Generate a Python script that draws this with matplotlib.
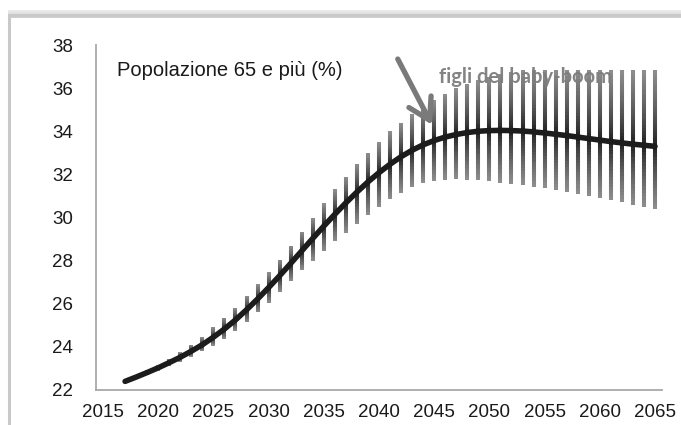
import numpy as np
import matplotlib
matplotlib.use("Agg")
import matplotlib.pyplot as plt
from matplotlib.collections import LineCollection
from matplotlib.patches import Rectangle, FancyArrowPatch

plt.rcParams['font.family'] = ['Liberation Sans', 'DejaVu Sans']

# ---- data ----
years = list(range(2017, 2066))
central = [22.40, 22.60, 22.81, 23.03, 23.27, 23.52, 23.80, 24.10, 24.45, 24.83,
           25.25, 25.72, 26.22, 26.75, 27.30, 27.87, 28.45, 29.03, 29.60, 30.15,
           30.68, 31.18, 31.65, 32.08, 32.47, 32.82, 33.12, 33.37, 33.57, 33.73,
           33.85, 33.94, 34.00, 34.03, 34.04, 34.03, 34.01, 33.97, 33.92, 33.86,
           33.80, 33.73, 33.66, 33.59, 33.52, 33.46, 33.40, 33.35, 33.30]

band_years = list(range(2019, 2066))
band_low = [22.70, 22.90, 23.10, 23.30, 23.55, 23.80, 24.05, 24.35, 24.75, 25.15,
            25.60, 26.05, 26.55, 27.05, 27.55, 28.00, 28.45, 28.90, 29.30, 29.70,
            30.10, 30.50, 30.85, 31.15, 31.40, 31.60, 31.70, 31.75, 31.78, 31.75,
            31.72, 31.68, 31.62, 31.56, 31.50, 31.42, 31.35, 31.27, 31.20, 31.10,
            31.00, 30.90, 30.82, 30.72, 30.60, 30.50, 30.40]
band_high = [22.95, 23.15, 23.45, 23.75, 24.10, 24.45, 24.90, 25.35, 25.80, 26.35,
             26.90, 27.45, 28.05, 28.70, 29.35, 30.00, 30.65, 31.30, 31.90, 32.50,
             33.00, 33.50, 34.00, 34.40, 34.80, 35.15, 35.45, 35.75, 36.00, 36.20,
             36.38, 36.52, 36.65, 36.75, 36.82, 36.85, 36.85, 36.85, 36.85, 36.85,
             36.85, 36.85, 36.85, 36.85, 36.85, 36.85, 36.85]

x_ticks = [2015, 2020, 2025, 2030, 2035, 2040, 2045, 2050, 2055, 2060, 2065]
y_ticks = [22, 24, 26, 28, 30, 32, 34, 36, 38]
title_text = "Popolazione 65 e più (%)"
note_text = "figli del baby-boom"

W, H = 681, 425
fig = plt.figure(figsize=(W / 100, H / 100), dpi=100)
fig.patch.set_facecolor('white')

# outer frame of the screenshot
fig.patches.append(Rectangle((9 / W, -0.05), (W + 20) / W, (H - 15) / H + 0.05,
                             transform=fig.transFigure, fill=False,
                             edgecolor='#c9c9c9', lw=2.2, zorder=0))
band_ax = fig.add_axes([8 / W, 1 - 18 / H, 1 - 8 / W, 8 / H])
grad = np.linspace(0.93, 0.82, 20).reshape(-1, 1)
band_ax.imshow(np.dstack([grad, grad, grad]), aspect='auto', extent=[0, 1, 0, 1])
band_ax.axis('off')

ax = fig.add_axes([96 / W, 1 - 390 / H, (662 - 96) / W, (390 - 45) / H])
ax.set_xlim(2015 - 7 / 11.04, 2065 + 7 / 11.04)
ax.set_ylim(22, 38)

# fan bars with gradient (dark near the central value, grey at the ends)
cmap_c = dict(zip(years, central))
dark = np.array([0.10, 0.10, 0.10])
light = np.array([0.56, 0.56, 0.56])
segs, cols = [], []
for yr, lo, hi in zip(band_years, band_low, band_high):
    c = cmap_c[yr]
    n = 40
    edges = np.linspace(lo, hi, n + 1)
    step = edges[1] - edges[0]
    for a, b in zip(edges[:-1], edges[1:]):
        m = (a + b) / 2
        if m >= c:
            t = (m - c) / max(hi - c, 1e-6)
        else:
            t = (c - m) / max(c - lo, 1e-6)
        t = min(max(t, 0.0), 1.0)
        col = dark + (light - dark) * t ** 0.75
        segs.append([(yr, a), (yr, min(b + step * 0.6, hi))])
        cols.append(col)
lc = LineCollection(segs, colors=cols, linewidths=2.9, capstyle='butt', zorder=2)
ax.add_collection(lc)

ax.plot(years, central, color='#1c1c1c', lw=4.0, solid_capstyle='round', zorder=4)

ax.text(2016.3, 36.8, title_text, fontsize=14.5, color='#1a1a1a',
        ha='left', va='center', zorder=5)
ax.text(2045.4, 36.5, note_text, fontsize=14.5, fontweight='bold',
        family=['Lato', 'DejaVu Sans'], color='#7d7d7d', ha='left', va='center',
        zorder=5, alpha=0.95)

arrow = FancyArrowPatch((2041.7, 37.35), (2044.8, 34.3),
                        arrowstyle='->,head_length=0.75,head_width=0.45',
                        mutation_scale=20, color='#7a7a7a', lw=3.8, zorder=5,
                        shrinkA=0, shrinkB=0)
ax.add_patch(arrow)

ax.set_xticks(x_ticks)
ax.set_yticks(y_ticks)
ax.set_xticklabels([str(v) for v in x_ticks])
ax.set_yticklabels([str(v) for v in y_ticks])
ax.tick_params(axis='both', length=0, labelsize=13.5, colors='#1a1a1a')
ax.tick_params(axis='y', pad=16.5)
ax.tick_params(axis='x', pad=10)
for s in ['top', 'right']:
    ax.spines[s].set_visible(False)
for s in ['left', 'bottom']:
    ax.spines[s].set_color('#a8a8a8')
    ax.spines[s].set_linewidth(1.3)
ax.set_facecolor('white')

fig.savefig('out.png', dpi=100)
